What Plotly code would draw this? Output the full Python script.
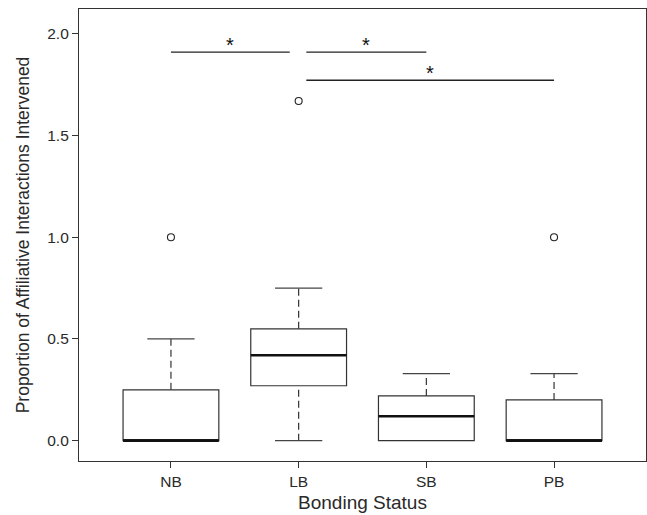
import plotly.graph_objects as go

categories = ["NB", "LB", "SB", "PB"]
q1 = [0.0, 0.27, 0.0, 0.0]
median = [0.0, 0.42, 0.12, 0.0]
q3 = [0.25, 0.55, 0.22, 0.20]
lower_whisker = [0.0, 0.0, 0.0, 0.0]
upper_whisker = [0.50, 0.75, 0.33, 0.33]
outlier_cat = [0, 1, 3]
outlier_val = [1.0, 1.67, 1.0]

sig_x0 = [0.0, 1.06, 1.06]
sig_x1 = [0.93, 2.0, 3.0]
sig_y = [1.91, 1.91, 1.772]
sig_label = ["*", "*", "*"]

y_ticks = [0.0, 0.5, 1.0, 1.5, 2.0]

BOX_W = 0.75
CAP_W = 0.37
LINE = "#333333"

fig = go.Figure()

for i in range(len(categories)):
    # box body
    fig.add_trace(go.Box(
        x=[i], q1=[q1[i]], median=[median[i]], q3=[q3[i]],
        lowerfence=[q1[i]], upperfence=[q3[i]],
        width=BOX_W, whiskerwidth=0, boxpoints=False,
        fillcolor="white", line=dict(color=LINE, width=1.2),
        hoverinfo="skip", showlegend=False,
    ))
    # thick median
    fig.add_trace(go.Scatter(
        x=[i - BOX_W / 2, i + BOX_W / 2], y=[median[i], median[i]],
        mode="lines", line=dict(color="#111111", width=2.6),
        hoverinfo="skip", showlegend=False,
    ))
    # whiskers (dashed) and caps (solid)
    for lo, hi, cap in [(q3[i], upper_whisker[i], upper_whisker[i]),
                        (lower_whisker[i], q1[i], lower_whisker[i])]:
        if hi > lo:
            fig.add_trace(go.Scatter(
                x=[i, i], y=[lo, hi], mode="lines",
                line=dict(color=LINE, width=1.2, dash="7px,4px"),
                hoverinfo="skip", showlegend=False,
            ))
            fig.add_trace(go.Scatter(
                x=[i - CAP_W / 2, i + CAP_W / 2], y=[cap, cap], mode="lines",
                line=dict(color="#444444", width=1.2),
                hoverinfo="skip", showlegend=False,
            ))

# outliers
fig.add_trace(go.Scatter(
    x=outlier_cat, y=outlier_val, mode="markers",
    marker=dict(symbol="circle-open", size=7, color="#222222", line=dict(width=1.1)),
    hoverinfo="skip", showlegend=False,
))

# significance bars
for x0, x1, y, lab in zip(sig_x0, sig_x1, sig_y, sig_label):
    fig.add_trace(go.Scatter(
        x=[x0, x1], y=[y, y], mode="lines",
        line=dict(color="#222222", width=1.4),
        hoverinfo="skip", showlegend=False,
    ))
    fig.add_annotation(
        x=(x0 + x1) / 2, y=y, text=lab, showarrow=False,
        yanchor="bottom", yshift=-6,
        font=dict(family="Liberation Sans, Arial", size=20, color="#111111"),
    )

fig.update_layout(
    width=647, height=515, autosize=False,
    margin=dict(l=79, r=1, t=9, b=54, autoexpand=False),
    paper_bgcolor="white", plot_bgcolor="white",
    font=dict(family="Liberation Sans, Arial", color="#2a2a2a"),
)
fig.update_xaxes(
    range=[-0.72, 3.72], tickvals=list(range(len(categories))), ticktext=categories,
    showgrid=False, zeroline=False, showline=True, mirror=True,
    linecolor="#333333", linewidth=1.2,
    ticks="outside", ticklen=6, tickcolor="#333333",
    tickfont=dict(size=15.5, color="#2a2a2a"),
    title=dict(text="Bonding Status", font=dict(size=19, color="#2a2a2a"), standoff=6),
)
fig.update_yaxes(
    range=[-0.1, 2.122], tickvals=y_ticks, ticktext=[f"{v:.1f}" for v in y_ticks],
    showgrid=False, zeroline=False, showline=True, mirror=True,
    linecolor="#333333", linewidth=1.2,
    ticks="outside", ticklen=6, tickcolor="#333333",
    tickfont=dict(size=15.5, color="#2a2a2a"),
    title=dict(text="Proportion of Affiliative Interactions Intervened",
               font=dict(size=17.5, color="#2a2a2a"), standoff=13),
)

post = ("document.body.style.margin='0';document.body.style.padding='0';"
        "document.body.style.overflow='hidden';"
        "var gd=document.getElementById('{plot_id}');"
        "Plotly.relayout(gd,{width:647,height:515});")

fig.write_html("out.html", post_script=post,
               config={"responsive": False, "displayModeBar": False})
